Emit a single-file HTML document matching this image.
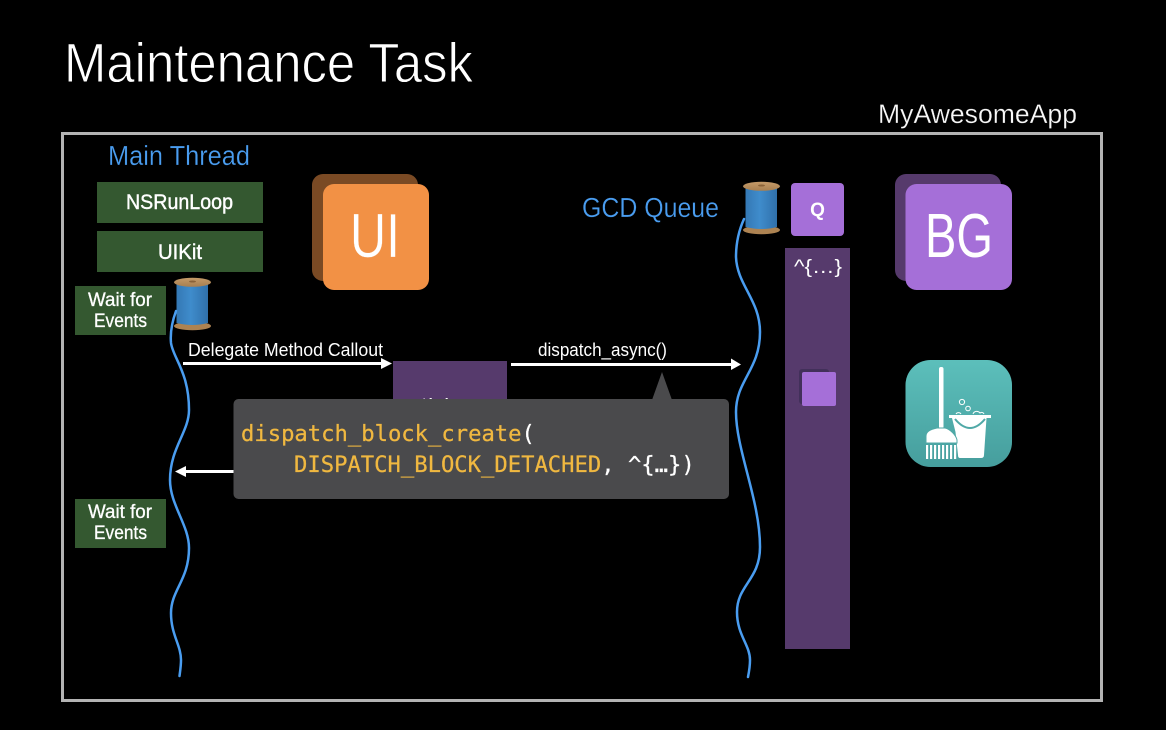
<!DOCTYPE html>
<html><head><meta charset="utf-8"><title>Maintenance Task</title>
<style>html,body{margin:0;padding:0;background:#000}svg{display:block}text{font-family:"Liberation Sans",sans-serif}</style></head>
<body>
<svg width="1166" height="730" viewBox="0 0 1166 730" xmlns="http://www.w3.org/2000/svg">
<defs>
<linearGradient id="sp" x1="0" x2="1" y1="0" y2="0"><stop offset="0" stop-color="#3478b4"/><stop offset=".45" stop-color="#3f8ccc"/><stop offset="1" stop-color="#3070aa"/></linearGradient>
<linearGradient id="fl" x1="0" x2="0" y1="0" y2="1"><stop offset="0" stop-color="#c49a68"/><stop offset="1" stop-color="#a87f50"/></linearGradient>
<linearGradient id="te" x1="0" x2="0" y1="0" y2="1"><stop offset="0" stop-color="#5cbfbb"/><stop offset="1" stop-color="#469e9d"/></linearGradient>
<g id="spool">
<ellipse cx="18.500" cy="49" rx="18.500" ry="4.200" fill="#ad8352"/>
<path d="M2.500 6V46Q18.500 50 34 46V6Z" fill="url(#sp)"/>
<ellipse cx="18.500" cy="5.300" rx="18.500" ry="4.500" fill="url(#fl)"/>
<ellipse cx="18.500" cy="4.500" rx="3.500" ry="1" fill="#8a6238"/>
</g>
</defs>
<rect width="1166" height="730" fill="#000"/>
<text x="64" y="82" font-size="56" fill="#fff" stroke="#000" stroke-width=".9" textLength="409" lengthAdjust="spacingAndGlyphs">Maintenance Task</text>
<text x="878" y="123" font-size="27" fill="#f8f8f8" stroke="#000" stroke-width=".25" textLength="199" lengthAdjust="spacingAndGlyphs">MyAwesomeApp</text>
<rect x="62.500" y="133.500" width="1039" height="567" fill="none" stroke="#b3b3b3" stroke-width="3"/>
<text x="108" y="165" font-size="28" fill="#4a9df0" stroke="#000" stroke-width=".25" textLength="142" lengthAdjust="spacingAndGlyphs">Main Thread</text>
<text x="582" y="217" font-size="28" fill="#4a9df0" stroke="#000" stroke-width=".25" textLength="137" lengthAdjust="spacingAndGlyphs">GCD Queue</text>

<rect x="97" y="182" width="166" height="41" fill="#345830"/>
<text x="126" y="209" font-size="21" fill="#fff" stroke="#fff" stroke-width=".4" textLength="107" lengthAdjust="spacingAndGlyphs">NSRunLoop</text>
<rect x="97" y="231" width="166" height="41" fill="#345830"/>
<text x="158" y="259" font-size="21" fill="#fff" stroke="#fff" stroke-width=".4" textLength="44" lengthAdjust="spacingAndGlyphs">UIKit</text>
<rect x="75" y="286" width="91" height="49" fill="#345830"/>
<text x="88" y="306" font-size="19" fill="#fff" stroke="#fff" stroke-width=".3" textLength="64" lengthAdjust="spacingAndGlyphs">Wait for</text>
<text x="94" y="327" font-size="19" fill="#fff" stroke="#fff" stroke-width=".3" textLength="53" lengthAdjust="spacingAndGlyphs">Events</text>
<rect x="75" y="499" width="91" height="49" fill="#345830"/>
<text x="88" y="518" font-size="19" fill="#fff" stroke="#fff" stroke-width=".3" textLength="64" lengthAdjust="spacingAndGlyphs">Wait for</text>
<text x="94" y="539" font-size="19" fill="#fff" stroke="#fff" stroke-width=".3" textLength="53" lengthAdjust="spacingAndGlyphs">Events</text>

<rect x="312" y="174" width="106" height="107" rx="11" fill="#7a4a24"/>
<rect x="323" y="184" width="106" height="106" rx="11" fill="#f29145"/>
<text x="350" y="257" font-size="62" fill="#fff" stroke="#f29145" stroke-width=".3" textLength="50" lengthAdjust="spacingAndGlyphs">UI</text>

<rect x="895" y="174" width="106" height="107" rx="11" fill="#563a6c"/>
<rect x="905.500" y="184" width="106.500" height="106" rx="11" fill="#a56fd8"/>
<text x="925" y="257" font-size="62" fill="#fff" textLength="68" lengthAdjust="spacingAndGlyphs">BG</text>

<rect x="791" y="183" width="53" height="53" rx="4" fill="#a56fd8"/>
<text x="817.500" y="216" font-size="19" font-weight="bold" fill="#fff" text-anchor="middle">Q</text>
<rect x="785" y="248" width="65" height="401" fill="#563a6c"/>
<text x="794" y="273" font-size="19" fill="#fff" textLength="48" lengthAdjust="spacingAndGlyphs">^{…}</text>
<rect x="799" y="369" width="30" height="35" rx="3" fill="#42305a"/>
<rect x="802" y="372" width="34" height="34" rx="2" fill="#a56fd8"/>

<rect x="393" y="361" width="114" height="50" fill="#563a6c"/>
<text x="421" y="412" font-size="19" fill="#fff" textLength="29" lengthAdjust="spacingAndGlyphs">^{…}</text>

<use href="#spool" x="174" y="277"/>
<use href="#spool" x="743" y="181"/>

<g fill="none" stroke="#4a9df0" stroke-width="2.500" stroke-linecap="round">
<path d="M176 311C172 322 170 332 171 343C173 358 189 372 189 410C189 432 170 448 170 480C170 505 189 525 189 548C189 580 171 590 171 613C171 635 181 645 181 660C181 666 180 672 179.500 676"/>
<path d="M744 219C739 230 736 242 736 257C737 285 760 300 760 332C760 370 736 380 736 412C736 450 760 500 760 547C760 580 737 585 737 612C737 635 750 645 750 660C750 666 749 672 748 677"/>
</g>

<text x="188" y="356" font-size="18" fill="#fff" textLength="195" lengthAdjust="spacingAndGlyphs">Delegate Method Callout</text>
<text x="538" y="356" font-size="18" fill="#fff" textLength="129" lengthAdjust="spacingAndGlyphs">dispatch_async()</text>

<g fill="#fff">
<rect x="183" y="362" width="200" height="3"/><path d="M381 358L392 363.500L381 369Z"/>
<rect x="511" y="363" width="222" height="3"/><path d="M731 358.500L741 364.500L731 370Z"/>
<rect x="184" y="470" width="52" height="3"/><path d="M186 466L175 471.500L186 477Z"/>
</g>

<path d="M662 372L672 400L652 400Z" fill="#4a4a4c"/>
<rect x="233.500" y="399" width="495.500" height="100" rx="5" fill="#4a4a4c"/>
<text y="441" font-size="22.200" stroke-width=".25" style="font-family:'DejaVu Sans Mono',monospace"><tspan x="241" fill="#f0b840" stroke="#f0b840">dispatch_block_create</tspan><tspan fill="#fff" stroke="#fff">(</tspan></text>
<text y="472" font-size="22.200" stroke-width=".25" style="font-family:'DejaVu Sans Mono',monospace"><tspan x="294" fill="#f0b840" stroke="#f0b840">DISPATCH_BLOCK_DETACHED</tspan><tspan fill="#fff" stroke="#fff">, ^{…})</tspan></text>

<rect x="905.500" y="360" width="106.500" height="107" rx="25" fill="url(#te)"/>
<g fill="#fff">
<rect x="939" y="367" width="4.500" height="62" rx="2"/>
<path d="M949 415H991V418H986.500L984 455Q984 458 981 458H960Q958 458 958 455L955.500 432L952 418H949Z"/>
<path d="M926 443V436C926 431 932 429 937 428H945C950 429 956 435 957 440V443Z" stroke="#50a9a7" stroke-width="1"/>
<rect x="926" y="445" width="2.200" height="14"/><rect x="930" y="445" width="2.200" height="14"/><rect x="934" y="445" width="2.200" height="14"/><rect x="938" y="445" width="2.200" height="14"/><rect x="942" y="445" width="2.200" height="14"/><rect x="946" y="445" width="2.200" height="14"/><rect x="950" y="445" width="2.200" height="14"/><rect x="954" y="445" width="2.200" height="14"/>
</g>
<path d="M955 419Q970 437 985 419" fill="none" stroke="#50a9a7" stroke-width="2"/>
<g fill="none" stroke="#fff" stroke-width="1">
<circle cx="962" cy="402" r="2.600"/><circle cx="968" cy="408.500" r="2.300"/>
<path d="M956 414A3 3 0 0 1 961 414M973 414A4 4 0 0 1 980 413A2.500 2.500 0 0 1 984 414"/>
</g>
</svg>
</body></html>
